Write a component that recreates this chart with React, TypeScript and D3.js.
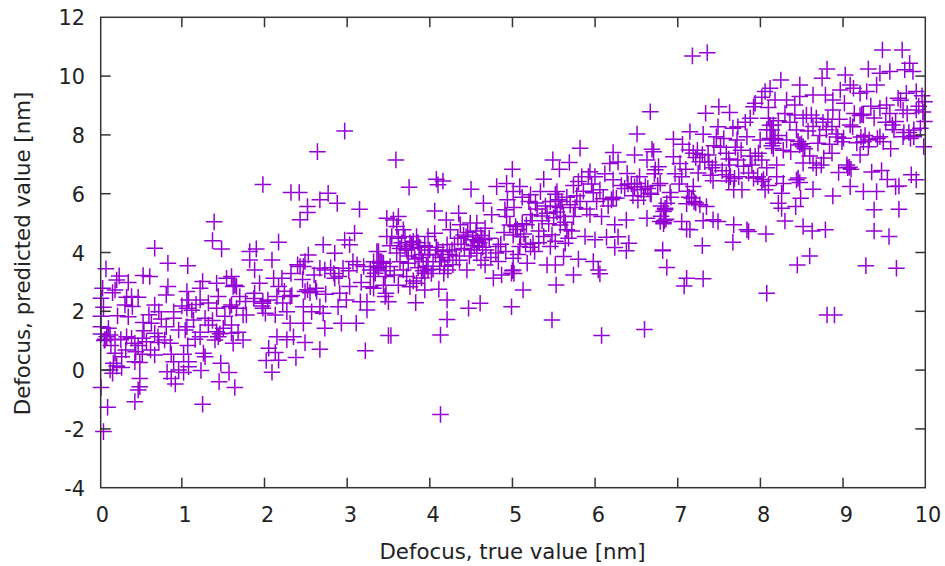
import React from "react";
import * as d3 from "d3";

const xTickValues = [0, 1, 2, 3, 4, 5, 6, 7, 8, 9, 10];
const yTickValues = [-4, -2, 0, 2, 4, 6, 8, 10, 12];
const xTitle = "Defocus, true value [nm]";
const yTitle = "Defocus, predicted value [nm]";

type P = [number, number];

const pointsLow: P[] = [
[1.96,6.33],[2.30,6.06],[2.40,6.06],[2.75,6.03],[2.65,5.81],[2.86,5.69],[3.13,5.49],[2.50,5.58],[2.50,5.38],[2.41,5.13],[1.37,5.06],[1.35,4.42],[1.46,4.14],[0.65,4.16],[0.81,3.65],[1.05,3.57],[0.06,3.46],[0.22,3.22],[0.19,3.08],[0.17,2.74],[0.14,2.65],[0.51,3.23],[0.59,3.20],[0.81,2.86],[0.79,2.57],[0.37,2.52],[0.31,2.49],[0.45,2.49],[0.29,2.23],[0.38,2.18],[0,2.46],[0.03,2.15],[0.65,2.23],[0.70,2.0],[0.88,2.0],[0.20,1.86],[0.33,1.83],[0.51,1.63],[0.61,1.61],[0,1.49],[0.09,1.44],[0,1.24],[0.11,1.21],[0.05,1.06],[0.17,1.06],[0.31,1.15],[0.37,1.10],[0.41,0.93],[0.42,0.64],[0.55,0.98],[0.65,1.27],[0.69,1.15],[0.77,1.04],[0.84,0.93],[0.65,0.53],[0.17,0.59],[0.25,0.47],[0.15,0.25],[0.11,0.02],[0.14,-0.09],[0.19,0.15],[0.41,0.30],[0.47,0.27],[0.47,-0.27],[0.47,-0.55],[0.45,-0.66],[0.41,-1.06],[0,-0.58],[0.08,-1.25],[0.03,-2.08],[1.23,-1.15],[1.62,-0.58],[1.43,-0.38],[1.55,-0.07],[1.21,0],[0.90,-0.46],[0.85,-0.27],[0.80,-0.04],[0.88,0.30],[0.94,0.02],[1.0,-0.07],[1.06,0.30],[1.06,0.13],[1.24,0.59],[1.26,0.47],[2.07,-0.06],[2.0,0.34],[2.11,0.61],[2.03,0.76],[2.13,1.15],[2.36,0.44],[2.65,0.72],[3.20,0.67],[2.47,0.95],[1.72,1.04],
[1.58,3.20],[1.52,3.14],[1.23,3.03],[1.40,2.97],[1.20,2.80],[1.04,2.69],[1.60,2.86],[1.64,2.86],[1.62,2.90],[1.42,2.52],[1.68,2.52],[1.20,2.40],[1.06,2.40],[1.04,2.12],[1.40,2.12],[1.56,2.17],[1.26,1.78],[1.12,1.72],[1.04,1.49],[0.88,1.78],[0.79,1.49],[0.94,1.38],[1.02,1.38],[1.14,1.06],[1.40,1.32],[1.42,1.15],[1.48,1.44],[1.58,1.27],[1.60,0.93],[1.38,1.04],[1.72,1.89],[1.76,1.89],[1.64,2.12],[1.58,2.23],[1.92,2.97],[1.86,3.42],[1.80,4.05],[1.88,4.14],[1.80,3.76],[2.07,3.76],[2.15,4.37],[2.19,3.14],[2.09,3.14],[2.15,2.86],[1.86,2.63],[1.96,2.29],[1.96,2.12],[2.13,2.52],[2.29,2.52],[2.25,2.0],[1.99,1.95],[2.11,1.89],[2.29,1.61],[2.45,1.61],[2.33,1.15],[2.71,1.44],[2.91,1.61],[3.09,1.61],[2.69,1.95],[2.65,2.17],[2.45,2.17],[2.55,2.0],[2.47,2.69],[2.61,2.69],[2.31,2.55],[2.41,3.54],[2.47,3.71],[2.45,3.54],[2.65,3.48],[2.71,3.42],[2.83,3.14],[2.93,3.48],[3.01,2.86],[2.89,2.63],[2.97,2.40],[2.87,2.17],[3.14,2.34],[3.22,2.34],[3.22,2.06],[3.44,2.52],[3.48,1.19],[3.05,3.71],[3.18,3.54],[3.32,3.31],[3.38,3.65],[3.30,2.80],[3.44,3.20],[2.69,4.28],[2.83,3.99],[2.95,4.44],[3.01,4.28],[3.07,4.67],[2.51,3.93],[3.36,4.05],[3.46,4.56],[3.46,5.18],
[2.95,8.15],[2.62,7.45],[0.02,2.80],[0.0,1.85],[0.04,1.02],[0.07,1.15],[0.12,0.85],[0.24,1.05],[0.3,0.7],[0.45,0.85],[0.52,1.35],[0.58,1.9],[0.73,1.75],[0.98,2.2],[1.1,2.05],[1.15,2.25],[1.3,2.3],[1.35,1.7],[1.5,1.85],[1.58,1.55],[1.66,1.3],[1.75,2.35],[1.85,2.45],[1.96,2.35],[2.02,2.4],[1.95,2.2],[2.22,2.7],[2.3,3.3],[2.38,3.6],[2.44,3.1],[2.5,2.75],[2.53,2.65],[2.6,2.8],[2.58,3.25],[2.72,2.6],[2.78,3.5],[2.82,3.3],[2.88,3.2],[3.0,3.4],[3.1,3.6],[3.15,3.0],[3.3,3.7],[3.34,3.55],[3.36,3.5],[3.4,3.7],[3.42,2.9],[3.26,2.85],[2.2,2.3],[2.25,1.05],[2.15,0.35],[0.85,0.55],[1.0,0.55],[1.05,0.85],[0.7,0.95],[0.6,0.7],[0.25,0.1],[0.5,1.1],[0.5,0.55],[1.45,0.25],[1.3,1.55],[1.44,1.25],[1.2,1.3],[0.33,3.0],[1.2,1.15]
];

const pointsMid: P[] = [
[3.57,7.17],[4.06,6.51],[4.08,6.32],[3.73,6.24],[4.48,6.17],[4.98,6.85],[4.79,6.26],[4.91,6.37],[4.99,6.09],[5.07,6.26],[4.92,5.81],[5.47,7.17],[5.55,6.85],[5.67,7.08],[5.36,6.51],[5.80,7.57],[6.16,7.05],[6.20,7.42],[6.46,7.34],[6.49,8.05],[6.67,7.53],[6.37,6.71],[6.61,7.17],[6.71,6.83],[5.92,6.77],[5.78,6.43],[6.04,6.15],[6.20,6.49],[6.49,6.37],[6.59,6.26],[6.57,5.92],[6.18,5.81],[6.24,5.86],[5.52,6.09],[5.54,5.81],[5.50,5.58],[5.20,5.98],[5.32,6.09],[5.80,5.75],[5.68,5.64],[4.63,5.69],[4.33,5.35],[4.04,5.43],[4.18,5.12],[4.73,5.30],[4.89,5.47],[4.91,5.24],[5.34,5.26],[5.15,4.96],[5.92,5.30],[6.06,5.24],[6.22,4.96],[6.36,5.12],[6.61,5.18],[6.83,5.47],[6.81,5.0],[5.72,5.24],[5.64,4.79],[5.46,4.62],[5.36,4.56],[5.86,4.56],[5.98,4.45],[6.12,4.54],[3.54,5.12],[3.60,5.24],[3.52,4.56],[3.66,4.79],[3.76,4.28],[3.82,4.56],[3.68,4.22],[3.96,4.56],[4.04,4.67],[4.23,4.79],[4.35,4.96],[4.47,5.02],[4.55,5.02],[4.65,4.84],[4.61,4.50],[4.39,4.61],[4.19,4.28],[4.08,4.10],[3.96,3.93],[3.90,3.71],[3.38,3.71],[3.34,4.05],[3.26,3.42],[3.30,3.2],[3.42,3.65],[3.50,3.54],[3.66,3.42],[3.70,3.2],[3.74,2.85],[3.82,2.97],[3.92,3.31],[3.96,3.42],[4.20,3.42],[4.43,3.42],[4.65,3.59],[4.81,3.71],[4.99,3.42],[4.99,3.82],[4.55,3.99],[4.81,4.22],[5.25,4.05],[5.23,4.33],[5.07,4.22],[4.99,4.61],[5.44,4.22],[5.62,4.33],[5.60,3.88],[5.40,3.59],[5.50,3.59],[5.78,3.79],[5.96,3.71],[6.02,3.42],[6.04,3.29],[5.72,3.25],[5.51,2.91],[5.11,2.74],[4.97,3.31],[4.85,3.25],[4.75,3.14],[4.97,2.17],[4.59,2.29],[4.45,2.12],[4.19,2.40],[4.19,1.74],[4.11,1.21],[3.51,1.19],[3.81,2.31],[3.48,2.34],[3.45,2.63],[3.92,2.74],[4.09,2.77],[5.46,1.72],[6.06,1.19],[6.58,1.40],[6.36,4.08],[6.39,4.33],[6.22,4.19],[6.80,4.08],[6.85,3.51],[4.11,-1.5],[4.14,6.45],
[3.6,4.5],[3.64,4.35],[3.7,4.1],[3.76,4.15],[3.78,4.4],[3.85,3.85],[3.86,4.2],[3.9,3.4],[4.0,3.3],[4.02,3.7],[4.05,3.95],[4.1,3.55],[4.12,3.85],[4.15,3.3],[4.2,3.75],[4.25,4.1],[4.26,3.6],[4.3,3.9],[4.32,4.5],[4.36,4.3],[4.4,4.15],[4.44,4.7],[4.46,3.9],[4.5,4.45],[4.52,4.25],[4.58,4.35],[4.6,4.6],[4.62,4.2],[4.66,4.1],[4.72,3.85],[4.7,4.5],[4.78,4.0],[4.84,4.3],[4.88,4.7],[4.9,4.05],[4.95,4.95],[5.0,5.55],[5.02,4.9],[5.08,4.55],[5.1,5.0],[5.12,4.65],[5.14,4.3],[5.18,5.75],[5.2,5.3],[5.22,5.1],[5.28,5.5],[5.3,4.75],[5.34,5.1],[5.38,5.6],[5.42,5.0],[5.48,5.2],[5.52,5.4],[5.56,4.95],[5.58,5.75],[5.6,5.25],[5.62,5.05],[5.7,4.75],[5.74,5.55],[5.76,5.95],[5.84,6.1],[5.88,5.5],[5.9,6.6],[5.96,6.05],[5.98,6.6],[6.0,5.75],[6.08,5.85],[6.1,6.7],[6.14,5.6],[6.2,5.9],[6.26,7.1],[6.3,6.3],[6.34,6.2],[6.38,6.35],[6.42,6.35],[6.44,5.95],[6.46,6.25],[6.5,5.8],[6.52,6.6],[6.54,6.15],[6.62,6.2],[6.66,6.0],[6.7,6.7],[6.74,6.3],[6.78,5.6],[3.45,3.4],[3.55,3.25],[3.6,2.9],[3.62,3.7],[3.72,3.65],[3.78,3.05],[3.84,3.5],[3.88,3.15],[3.5,4.25],[3.58,4.0],[6.26,4.55],[5.0,3.3],[4.98,3.4],[5.05,3.95],[5.16,3.65],[5.3,4.35],[5.2,4.2],[5.5,4.4],[5.66,4.5],
[3.58,4.9],[3.62,4.15],[3.68,4.55],[3.72,3.9],[3.74,4.35],[3.8,3.8],[3.84,4.35],[3.88,3.95],[3.92,4.25],[3.94,3.55],[3.98,4.1],[4.02,3.45],[4.06,4.2],[4.1,3.7],[4.14,4.05],[4.16,3.55],[4.22,3.95],[4.28,4.3],[4.34,3.75],[4.42,4.55],[4.48,4.1],[4.54,4.75],[4.56,4.4],[4.6,3.75],[4.64,4.45],[5.04,4.8],[5.1,5.9],[5.26,5.7],[5.4,5.35],[5.44,5.75],[5.5,6.0],[5.56,5.55],[5.64,5.9],[5.72,6.3],[5.82,6.6],[5.94,6.35]
];

const pointsHigh: P[] = [
[7.16,10.71],[7.34,10.82],[9.46,10.91],[9.70,10.91],[9.79,10.46],[9.73,10.24],[9.83,10.18],[8.79,10.26],[8.73,9.95],[9.29,10.26],[9.43,10.12],[9.55,10.18],[9.01,10.06],[8.23,9.89],[8.46,9.72],[8.10,9.61],[8.04,9.50],[8.95,9.55],[9.07,9.72],[9.11,9.61],[9.39,9.72],[9.19,9.44],[9.27,9.50],[8.62,9.38],[8.77,9.38],[8.46,9.33],[8.16,9.21],[8.30,9.21],[8.40,9.04],[8.86,9.21],[8.86,8.87],[7.92,9.10],[7.90,8.98],[7.48,8.98],[7.61,8.78],[7.32,8.76],[6.65,8.81],[7.86,8.59],[8.08,8.59],[8.54,8.70],[8.50,8.59],[8.66,8.59],[9.23,8.70],[9.19,8.68],[9.21,8.72],[9.43,8.93],[9.51,9.04],[9.65,9.27],[9.75,9.44],[9.87,9.50],[9.97,9.15],[9.71,8.87],[9.87,8.87],[9.62,8.48],[9.97,8.48],[9.58,8.36],[9.07,8.36],[8.85,8.31],[8.62,8.31],[8.42,8.19],[8.14,8.36],[8.12,8.19],[7.71,8.30],[7.65,8.25],[7.47,8.30],[7.13,8.13],[7.29,8.04],[7.45,7.96],[6.93,7.87],[7.82,7.96],[7.98,7.85],[8.30,7.85],[8.14,7.74],[8.14,7.56],[8.46,7.68],[8.50,7.62],[8.68,7.74],[8.99,7.91],[8.97,7.79],[9.23,7.79],[9.29,7.62],[9.43,7.96],[9.47,7.79],[9.71,7.96],[9.84,8.19],[9.84,7.96],[9.96,7.62],[9.19,7.34],[8.85,7.40],[8.75,7.23],[8.50,7.06],[8.62,7.06],[8.72,7.0],[9.06,6.92],[8.93,6.74],[9.33,6.76],[9.45,6.81],[9.81,6.66],[9.87,6.49],[8.18,7.0],[8.0,7.17],[7.92,7.29],[7.86,7.3],[7.61,7.0],[7.71,7.17],[7.57,7.40],[7.35,7.34],[7.25,7.11],[7.17,7.40],[7.12,7.51],[6.93,7.28],[6.69,7.45],[7.01,7.05],[6.75,6.94],[7.31,7.11],[7.23,6.72],[7.03,6.60],[7.57,6.66],[7.67,6.54],[7.84,6.72],[8.0,6.43],[8.18,6.60],[8.26,6.37],[8.42,6.49],[7.66,6.15],[7.76,6.15],[8.04,6.15],[8.24,6.03],[8.62,6.17],[8.86,5.94],[9.07,6.26],[9.23,6.09],[9.39,6.09],[9.62,6.26],[9.66,6.28],[7.41,6.46],[6.77,6.37],[6.89,6.06],[6.65,6.03],[7.17,6.26],[7.15,5.87],[7.09,5.68],[7.25,5.64],[7.33,5.58],[6.85,5.69],[6.81,5.41],[6.77,5.07],[6.81,5.03],[6.83,5.52],[7.03,5.07],[7.09,4.81],[7.13,4.79],[7.29,5.10],[7.41,5.13],[7.47,5.07],[7.66,4.96],[7.82,4.79],[7.84,4.73],[8.05,4.65],[7.65,4.37],[7.28,4.25],[6.80,4.10],[6.85,3.51],[7.09,3.14],[7.06,2.88],[7.29,3.12],[8.06,2.63],[8.79,1.89],[8.88,1.89],[8.43,3.59],[8.58,3.90],[9.26,3.57],[9.63,3.48],[9.54,4.56],[9.36,4.75],[8.28,5.09],[8.50,4.90],[8.61,4.75],[8.77,4.79],[9.36,5.47],[9.66,5.49],[8.20,5.69],[8.24,5.52],[8.41,5.58],[8.47,5.86],
[8.08,8.95],[8.1,8.35],[8.1,7.9],[8.12,7.65],[8.16,7.9],[8.14,7.85],[8.06,8.2],[7.96,7.4],[8.44,7.8],[8.48,7.72],[8.52,7.55],[8.9,8.05],[8.92,7.95],[9.03,7.0],[9.08,6.85],[9.1,8.3],[9.15,7.75],[9.2,7.95],[9.25,8.0],[9.3,7.85],[9.36,8.6],[9.4,7.9],[9.55,8.75],[9.6,8.2],[9.68,9.2],[9.72,8.1],[9.78,8.1],[9.8,7.9],[9.84,8.0],[9.9,9.0],[9.94,9.35],[8.0,9.3],[8.2,8.5],[8.28,8.75],[8.35,7.45],[8.6,8.7],[8.78,8.2],[8.8,8.55],[8.82,7.7],[8.7,8.0],[8.4,8.7],[7.2,7.25],[7.22,7.5],[7.28,7.35],[7.36,7.1],[7.38,6.65],[7.4,6.9],[7.44,7.0],[7.5,7.6],[7.52,6.8],[7.6,7.2],[7.68,7.6],[7.75,7.5],[7.78,6.95],[7.88,7.0],[7.9,6.55],[7.95,6.6],[8.02,6.5],[8.08,6.3],[8.06,6.9],[7.0,6.35],[6.95,6.7],[6.9,5.9],[7.1,6.1],[7.12,5.9],[7.18,5.75],[7.2,5.7],[6.84,5.15],[6.82,5.1],[6.78,5.25],[7.6,6.45],[7.62,6.6],[7.72,6.6],[8.44,6.55],[8.46,6.4],[9.04,6.9],[9.95,8.8],
[7.04,7.7],[7.08,6.85],[7.42,7.65],[7.54,7.9],[7.7,7.85],[7.8,8.45],[8.2,8.0],[8.26,7.5],[8.34,8.45],[8.56,8.15],[8.58,7.3],[8.66,6.9],[8.74,8.45],[8.94,8.55],[9.0,9.1],[9.12,8.75],[9.32,9.0],[9.5,8.45],[9.56,7.55],[9.76,8.75],[9.92,8.25],[9.52,6.5]
];

const allPoints: P[] = [...pointsLow, ...pointsMid, ...pointsHigh];

const WIDTH = 945;
const HEIGHT = 566;
const font = "'DejaVu Sans', sans-serif";
const ink = "#222";
const markColor = "#9400d3";
const arm = 8.3;
const tickLen = 10;
const tickFontSize = 20.8;
const titleFontSize = 21.3;

export default function App() {
  const x = d3.scaleLinear().domain([0, 10]).range([99.2, 925.7]);
  const y = d3.scaleLinear().domain([-4, 12]).range([487.7, 17.3]);
  const xMark = d3.scaleLinear().domain([0, 10]).range([101, 927]);
  const yMark = d3.scaleLinear().domain([-4, 12]).range([488, 18]);
  const frameLeft = 100.7;
  const frameRight = 925.3;
  const yB = y(-4);
  const yT = y(12);
  const plus = d3.path();
  allPoints.forEach(([a, b]) => {
    const px = xMark(a);
    const py = yMark(b);
    plus.moveTo(px - arm, py);
    plus.lineTo(px + arm, py);
    plus.moveTo(px, py - arm);
    plus.lineTo(px, py + arm);
  });
  return (
    <svg
      width={WIDTH}
      height={HEIGHT}
      style={{ position: "absolute", left: 0, top: 0, background: "#fff" }}
      fontFamily={font}
    >
      <path d={plus.toString()} fill="none" stroke={markColor} strokeWidth={1.5} />
      <g stroke="#333" strokeWidth={1.5}>
        {xTickValues.slice(1, -1).map((t) => (
          <g key={t}>
            <line x1={x(t)} x2={x(t)} y1={yB} y2={yB - tickLen} />
            <line x1={x(t)} x2={x(t)} y1={yT} y2={yT + tickLen} />
          </g>
        ))}
        {yTickValues.slice(1, -1).map((t) => (
          <g key={t}>
            <line x1={frameLeft} x2={frameLeft + tickLen} y1={y(t)} y2={y(t)} />
            <line x1={frameRight} x2={frameRight - tickLen} y1={y(t)} y2={y(t)} />
          </g>
        ))}
        <rect x={frameLeft} y={yT} width={frameRight - frameLeft} height={yB - yT} fill="none" />
      </g>
      <g fill={ink}>
        <g fontSize={tickFontSize}>
          {xTickValues.map((t) => (
            <text key={t} x={x(t) + (t === 10 ? 2.4 : 3.2)} y={521.5} textAnchor="middle">
              {t}
            </text>
          ))}
          {yTickValues.map((t) => (
            <text key={t} x={85} y={y(t) + 8} textAnchor="end">
              {t}
            </text>
          ))}
        </g>
        <g fontSize={titleFontSize}>
          <text x={512.5} y={559} textAnchor="middle">
            {xTitle}
          </text>
          <text transform="translate(30,253.5) rotate(-90)" textAnchor="middle">
            {yTitle}
          </text>
        </g>
      </g>
    </svg>
  );
}
